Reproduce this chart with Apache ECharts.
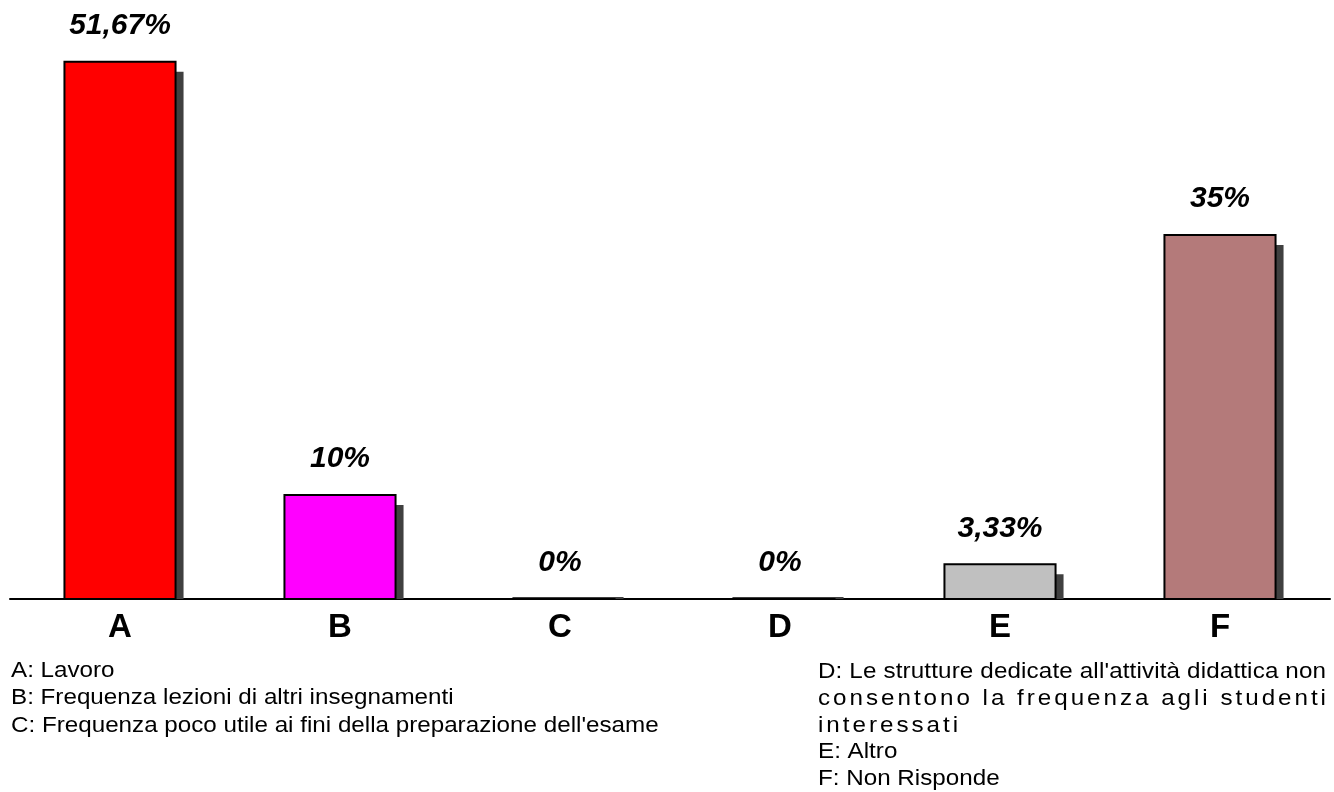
<!DOCTYPE html>
<html><head><meta charset="utf-8">
<script src="https://cdn.jsdelivr.net/npm/echarts@6/dist/echarts.min.js"></script>
<style>html,body{margin:0;padding:0;background:#fff}#c{width:1334px;height:792px}</style>
</head><body><div id="c"></div>
<script>
const categories = ['A','B','C','D','E','F'];
const values = [51.67, 10, 0, 0, 3.33, 35];
const valueLabels = ['51,67%','10%','0%','0%','3,33%','35%'];
const barColors = ['#ff0000','#ff00ff','#3366ff','#33cc33','#c0c0c0','#b47a7a'];
const legendLeft = ['A: Lavoro','B: Frequenza lezioni di altri insegnamenti',"C: Frequenza poco utile ai fini della preparazione dell'esame"];
const legendRight = ["D: Le strutture dedicate all'attività didattica non",'consentono la frequenza agli studenti','interessati','E: Altro','F: Non Risponde'];

const FONT = '"Liberation Sans", Arial, sans-serif';
const FS = 22, SX = 1.1;
const chart = echarts.init(document.getElementById('c'));

const cv = document.createElement('canvas').getContext('2d');
cv.font = FS + 'px "Liberation Sans"';
function w(s){return cv.measureText(s).width * SX;}

function txt(x, y, t){
  return {type:'text', x:x, y:y, scaleX:SX, style:{text:t, font:FS+'px '+FONT, fill:'#000', verticalAlign:'middle'}};
}
function spread(x0, y, t, sp){
  const out = [];
  let x = x0;
  for (const ch of t){ out.push(txt(x, y, ch)); x += w(ch) + sp; }
  return out;
}

const graphics = [];
legendLeft.forEach((t,i)=>{ graphics.push(txt(11, 671 + i*27.3, t)); });
const rx0 = 818, rx1 = 1326;
const sp0 = (rx1 - rx0 - w(legendRight[0])) / (legendRight[0].length - 1);
const sp1 = (rx1 - rx0 - w(legendRight[1])) / (legendRight[1].length - 1);
legendRight.forEach((t,i)=>{
  const y = 672 + i*26.8;
  if (i === 0) graphics.push(...spread(rx0, y, t, sp0));
  else if (i === 1 || i === 2) graphics.push(...spread(rx0, y, t, sp1));
  else graphics.push(txt(rx0, y, t));
});

chart.setOption({
  animation:false,
  grid:{left:10, right:4, top:27, bottom:193},
  xAxis:{type:'category', data:categories,
    axisLine:{lineStyle:{color:'#000', width:2}}, axisTick:{show:false},
    axisLabel:{fontFamily:FONT, fontWeight:'bold', fontSize:33, color:'#000', margin:12}},
  yAxis:{type:'value', min:0, max:55, show:false, splitLine:{show:false}},
  series:[{
    type:'custom',
    data: values.map((v,i)=>[i,v]),
    renderItem(params, api){
      const idx = params.dataIndex;
      const top = api.coord([api.value(0), api.value(1)]);
      const base = api.coord([api.value(0), 0]);
      const bw = api.size([1,0])[0]*0.505;
      const x0 = top[0]-bw/2;
      const h = base[1]-top[1];
      const children = [];
      if (h > 10) children.push({type:'rect', shape:{x:x0+8, y:top[1]+10, width:bw, height:h-10}, style:{fill:'#404040'}});
      else children.push({type:'rect', shape:{x:x0+8, y:base[1]-2, width:bw, height:2}, style:{fill:'#404040'}});
      children.push({type:'rect', shape:{x:x0, y:top[1], width:bw, height:h}, style:{fill:barColors[idx], stroke:'#000', lineWidth:2}});
      children.push({type:'text', x:top[0], y:top[1]-36, style:{text:valueLabels[idx], font:'italic bold 30px '+FONT, fill:'#000', align:'center', verticalAlign:'middle'}});
      return {type:'group', children};
    }
  }],
  graphic: graphics
});
</script></body></html>
